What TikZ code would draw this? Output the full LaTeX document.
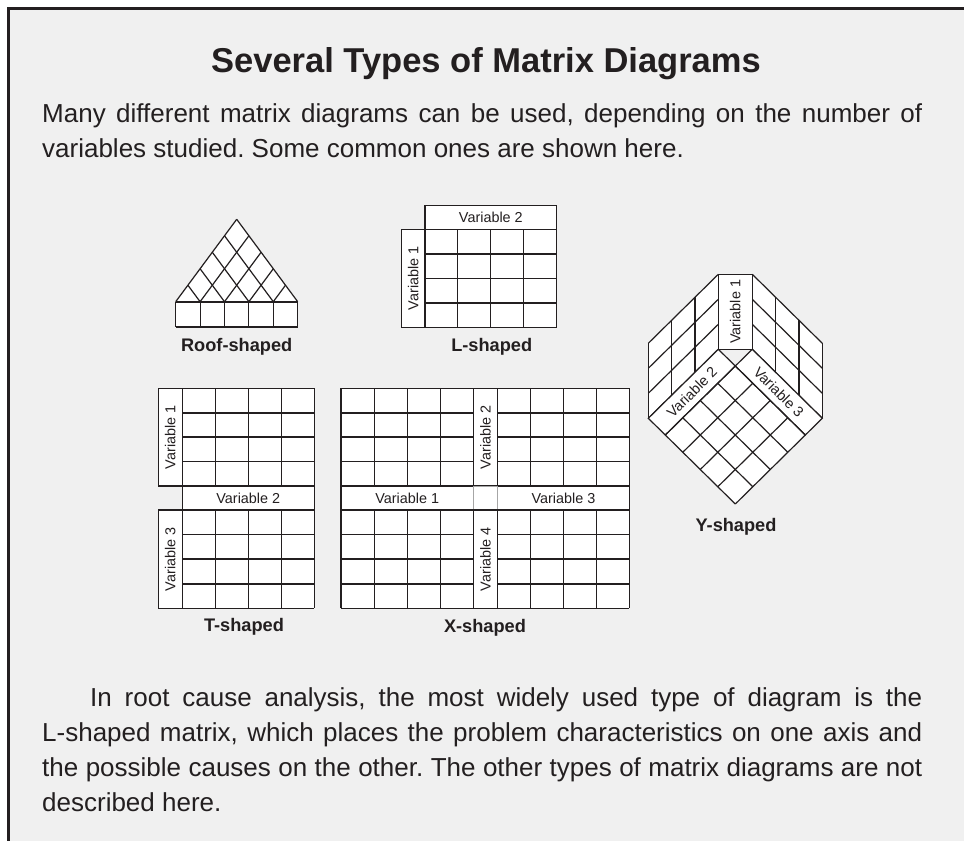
\documentclass[tikz,border=0pt]{standalone}
\usepackage{fontspec}
\setmainfont{Liberation Sans}
\frenchspacing
\definecolor{bgc}{HTML}{F0F0F0}
\definecolor{ink}{HTML}{231F20}
\tikzset{
  hline/.style={draw=ink, line width=1.6pt},
  vline/.style={draw=ink, line width=1.1pt},
  dline/.style={draw=ink, line width=1.2pt},
  boxs/.style={draw=ink, fill=white, line width=1.1pt},
  lab/.style={font=\fontsize{14.4}{16}\selectfont, text=ink, inner sep=0pt},
  capt/.style={font=\fontsize{18.2}{20}\selectfont\bfseries, text=ink, inner sep=0pt, anchor=base},
}
\newcommand\mgrid[6]{%
  \fill[white] (#1,#2) rectangle ++({#3*#5},{#4*#6});
  \foreach \i in {0,...,#3} \draw[vline] ({#1+\i*#5},#2) -- ++(0,{#4*#6});
  \foreach \j in {0,...,#4} \draw[hline] (#1,{#2+\j*#6}) -- ++({#3*#5},0);
}
\begin{document}
\begin{tikzpicture}[x=1pt,y=-1pt]
\useasboundingbox (0,0) rectangle (964,841);
\fill[white] (0,0) rectangle (964,841);
\fill[bgc] (8,8) rectangle (964,841);
\draw[ink, line width=2.5pt] (7,8.3) -- (964,8.3);
\draw[ink, line width=3pt] (8.8,7) -- (8.8,841);

% title and text
\node[anchor=base, font=\fontsize{34.5}{40}\selectfont\bfseries, text=ink, inner sep=0pt] (title) at (486,72) {Several Types of Matrix Diagrams};
\node[anchor=base west, text width=880pt, align=justify, inner sep=0pt, text=ink,
  font=\fontsize{26}{35}\selectfont] (intro) at (42,122)
  {\tolerance=10000 Many different matrix diagrams can be used, depending on the number of\linebreak variables studied. Some common ones are shown here.};
\node[anchor=base west, text width=880pt, align=justify, inner sep=0pt, text=ink,
  font=\fontsize{26}{35}\selectfont] (outro) at (42,706)
  {\tolerance=10000 \hspace*{48pt}In root cause analysis, the most widely used type of diagram is the\linebreak L-shaped matrix, which places the problem characteristics on one axis and\linebreak the possible causes on the other. The other types of matrix diagrams are not\linebreak described here.};

% Roof-shaped
\fill[white] (175.7,301.7) -- (236.7,219.3) -- (297.7,301.7) -- cycle;
\foreach \i in {0,...,4} {
  \pgfmathsetmacro\xa{175.7+24.4*\i}
  \draw[dline] (\xa,301.7) -- ({(\xa+297.7)/2},{301.7-1.351*(297.7-\xa)/2});
}
\foreach \i in {1,...,5} {
  \pgfmathsetmacro\xa{175.7+24.4*\i}
  \draw[dline] (\xa,301.7) -- ({(\xa+175.7)/2},{301.7-1.351*(\xa-175.7)/2});
}
\mgrid{175.7}{301.7}{5}{1}{24.4}{25}
\node[capt] (roofcap) at (236.7,351.7) {Roof-shaped};

% L-shaped
\draw[boxs] (425,205.7) rectangle (556.7,229.3);
\node[lab] (lv2) at (490.85,217.5) {Variable 2};
\draw[boxs] (401.3,229.3) rectangle (425,327.3);
\node[lab, rotate=90] (lv1) at (413.15,278.3) {Variable 1};
\mgrid{425}{229.3}{4}{4}{32.925}{24.5}
\node[capt] (lcap) at (491.7,351.7) {L-shaped};

% T-shaped
\draw[boxs] (158.3,388.3) rectangle (182.3,486);
\node[lab, rotate=90] (tv1) at (170.3,437.15) {Variable 1};
\mgrid{182.3}{388.3}{4}{4}{33}{24.425}
\draw[boxs] (182.3,486) rectangle (314.3,510);
\node[lab] (tv2) at (248.3,498) {Variable 2};
\draw[boxs] (158.3,510) rectangle (182.3,608.3);
\node[lab, rotate=90] (tv3) at (170.3,559.15) {Variable 3};
\mgrid{182.3}{510}{4}{4}{33}{24.575}
\node[capt] (tcap) at (244,631.7) {T-shaped};

% X-shaped
\mgrid{341}{388.3}{4}{4}{33.075}{24.425}
\draw[boxs] (473.3,388.3) rectangle (497.7,486);
\node[lab, rotate=90] (xv2) at (485.5,437.15) {Variable 2};
\mgrid{497.7}{388.3}{4}{4}{32.9}{24.425}
\fill[white] (473.3,486) rectangle (497.7,510);
\draw[boxs] (341,486) rectangle (473.3,510);
\node[lab] (xv1) at (407.15,498) {Variable 1};
\draw[boxs] (497.7,486) rectangle (629.3,510);
\node[lab] (xv3) at (563.5,498) {Variable 3};
\draw[gray!70, line width=0.6pt] (473.3,486) rectangle (497.7,510);
\mgrid{341}{510}{4}{4}{33.075}{24.575}
\draw[boxs] (473.3,510) rectangle (497.7,608.3);
\node[lab, rotate=90] (xv4) at (485.5,559.15) {Variable 4};
\mgrid{497.7}{510}{4}{4}{32.9}{24.575}
\node[capt] (xcap) at (485,632) {X-shaped};

% Y-shaped
\fill[white] (648.3,418.3) -- (718.3,349.3) -- (718.3,274.3) -- (648.3,343.3) -- cycle;
\fill[white] (822.3,418.3) -- (752.3,349.3) -- (752.3,274.3) -- (822.3,343.3) -- cycle;
\foreach \a in {0,1,2,3} {
  \draw[dline] ({648.3+70*\a/3},{418.3-69*\a/3}) -- ++(0,-75);
  \draw[dline] ({822.3-70*\a/3},{418.3-69*\a/3}) -- ++(0,-75);
  \draw[dline] (648.3,{418.3-25*\a}) -- ++(70,-69);
  \draw[dline] (822.3,{418.3-25*\a}) -- ++(-70,-69);
}
\draw[boxs] (718.3,274.3) rectangle (752.3,349.3);
\node[lab, rotate=90] (yv1) at (735.3,311.8) {Variable 1};
\fill[white] (735.3,366) -- (665.3,435) -- (735.3,504) -- (805.3,435) -- cycle;
\draw[boxs, line width=1.2pt] (718.3,349.3) -- (648.3,418.3) -- (665.3,435) -- (735.3,366) -- cycle;
\draw[boxs, line width=1.2pt] (752.3,349.3) -- (822.3,418.3) -- (805.3,435) -- (735.3,366) -- cycle;
\node[lab, rotate=45] (yv2) at (691.8,392.2) {Variable 2};
\node[lab, rotate=-45] (yv3) at (778.8,392.2) {Variable 3};
\foreach \i in {0,...,4} {
  \draw[dline] ({735.3-17.5*\i},{366+17.25*\i}) -- ++(70,69);
  \draw[dline] ({735.3+17.5*\i},{366+17.25*\i}) -- ++(-70,69);
}
\node[capt] (ycap) at (736,531.7) {Y-shaped};
\end{tikzpicture}
\end{document}
